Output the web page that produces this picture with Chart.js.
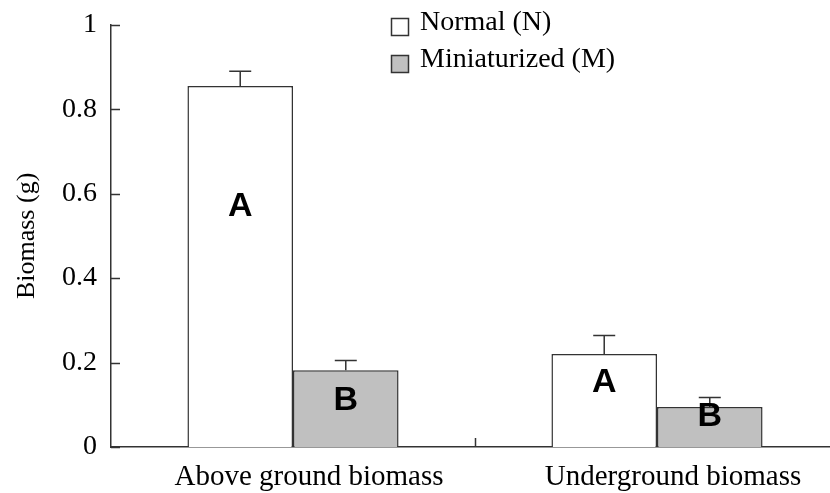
<!DOCTYPE html>
<html>
<head>
<meta charset="utf-8">
<script src="https://cdn.jsdelivr.net/npm/chart.js@4"></script>
<style>
  html, body { margin: 0; padding: 0; background: #fff; overflow: hidden; }
  #wrap { width: 850px; height: 499px; margin-top: -6px; }
</style>
</head>
<body>
<div id="wrap"><canvas id="biomassChart" width="850" height="499"></canvas></div>
<script>
const categories = ['Above ground biomass', 'Underground biomass'];
const seriesNames = ['Normal (N)', 'Miniaturized (M)'];
const normalValues = [0.855, 0.220];
const normalErrors = [0.035, 0.044];
const miniValues = [0.182, 0.095];
const miniErrors = [0.023, 0.022];
const yTicks = [0, 0.2, 0.4, 0.6, 0.8, 1];
const normalLetters = ['A', 'A'];
const miniLetters = ['B', 'B'];
// where the letters sit, in axis units
const normalLetterAt = [0.569, 0.152];
const miniLetterAt = [0.109, 0.071];

const serif = "'Liberation Serif', 'Times New Roman', serif";
const lineColor = '#333';

const extrasPlugin = {
  id: 'extras',
  afterDatasetsDraw(chart) {
    const ctx = chart.ctx;
    const y = chart.scales.y;
    const x = chart.scales.x;
    const area = chart.chartArea;
    ctx.save();
    ctx.strokeStyle = lineColor;
    ctx.lineWidth = 1.5;

    // error bars
    chart.data.datasets.forEach((ds, di) => {
      const meta = chart.getDatasetMeta(di);
      meta.data.forEach((bar, i) => {
        const top = y.getPixelForValue(ds.data[i] + ds.errors[i]);
        ctx.beginPath();
        ctx.moveTo(bar.x, bar.y);
        ctx.lineTo(bar.x, top);
        ctx.moveTo(bar.x - 11, top);
        ctx.lineTo(bar.x + 11, top);
        ctx.stroke();
      });
    });

    // inside ticks on y axis
    yTicks.forEach(v => {
      const py = Math.round(y.getPixelForValue(v)) + 0.5;
      ctx.beginPath();
      ctx.moveTo(area.left, py);
      ctx.lineTo(area.left + 9, py);
      ctx.stroke();
    });

    // tick between categories on x axis
    const mid = (x.getPixelForValue(0) + x.getPixelForValue(1)) / 2;
    ctx.beginPath();
    ctx.moveTo(Math.round(mid) + 0.5, area.bottom);
    ctx.lineTo(Math.round(mid) + 0.5, area.bottom - 9);
    ctx.stroke();

    // letters
    ctx.fillStyle = '#000';
    ctx.font = "bold 34px 'Liberation Sans', Arial, sans-serif";
    ctx.textAlign = 'center';
    ctx.textBaseline = 'middle';
    const letterSets = [[normalLetters, normalLetterAt], [miniLetters, miniLetterAt]];
    letterSets.forEach(([letters, at], di) => {
      const meta = chart.getDatasetMeta(di);
      meta.data.forEach((bar, i) => {
        ctx.fillText(letters[i], bar.x, y.getPixelForValue(at[i]));
      });
    });

    // legend
    ctx.font = '28px ' + serif;
    ctx.textAlign = 'left';
    ctx.textBaseline = 'alphabetic';
    chart.data.datasets.forEach((ds, di) => {
      const by = 24 + di * 37;
      ctx.fillStyle = ds.backgroundColor;
      ctx.fillRect(391.5, by + 0.5, 17, 17);
      ctx.strokeRect(391.5, by + 0.5, 17, 17);
      ctx.fillStyle = '#000';
      ctx.fillText(ds.label, 420, by + 12);
    });
    ctx.restore();
  }
};

new Chart(document.getElementById('biomassChart'), {
  type: 'bar',
  data: {
    labels: categories,
    datasets: [
      {
        label: seriesNames[0],
        data: normalValues,
        errors: normalErrors,
        backgroundColor: '#ffffff',
        borderColor: lineColor,
        borderWidth: 1.5,
        categoryPercentage: 0.58,
        barPercentage: 1
      },
      {
        label: seriesNames[1],
        data: miniValues,
        errors: miniErrors,
        backgroundColor: '#c0c0c0',
        borderColor: lineColor,
        borderWidth: 1.5,
        categoryPercentage: 0.58,
        barPercentage: 1
      }
    ]
  },
  options: {
    responsive: false,
    animation: false,
    layout: { padding: { top: 19, right: 11, left: 0, bottom: 0 } },
    plugins: {
      legend: { display: false },
      tooltip: { enabled: false }
    },
    scales: {
      x: {
        grid: { display: false, drawTicks: false },
        border: { display: true, color: lineColor, width: 1.5 },
        ticks: {
          color: '#000',
          font: { family: serif, size: 29 },
          padding: 13,
          labelOffset: 16,
          maxRotation: 0
        },
        afterFit(scale) { scale.height = 46; }
      },
      y: {
        min: 0,
        max: 1,
        grid: { display: false, drawTicks: false },
        border: { display: true, color: lineColor, width: 1.5 },
        afterBuildTicks(scale) { scale.ticks = yTicks.map(v => ({ value: v })); },
        ticks: {
          color: '#000',
          font: { family: serif, size: 28 },
          padding: 14,
          callback: v => String(v)
        },
        title: {
          display: true,
          text: 'Biomass (g)',
          color: '#000',
          font: { family: serif, size: 26 },
          padding: { top: 12, bottom: 0 }
        },
        afterFit(scale) { scale.width = 111; }
      }
    }
  },
  plugins: [extrasPlugin]
});
</script>
</body>
</html>
